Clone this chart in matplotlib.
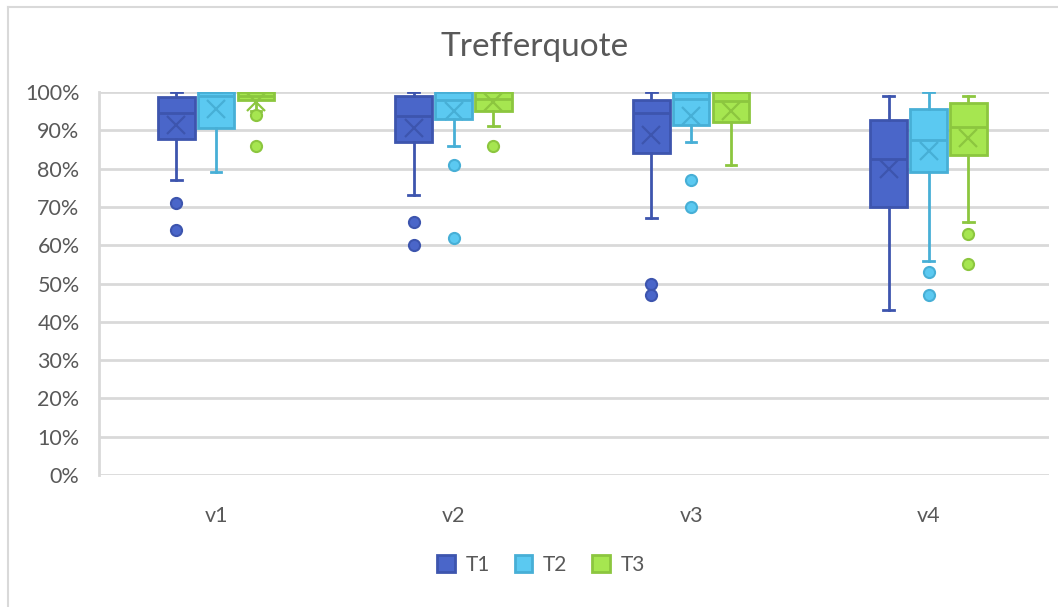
import matplotlib
matplotlib.use("Agg")
import matplotlib.pyplot as plt
from matplotlib.patches import Patch
from matplotlib.lines import Line2D
from matplotlib.ticker import FuncFormatter

categories = ["v1", "v2", "v3", "v4"]
series = ["T1", "T2", "T3"]

# values in percent, per series, per category
whislo = {
    "T1": [77, 73, 67, 43],
    "T2": [79, 86, 87, 56],
    "T3": [95, 91, 81, 66],
}
q1 = {
    "T1": [87.7, 87.0, 84.0, 70.0],
    "T2": [90.7, 92.9, 91.3, 79.1],
    "T3": [97.9, 95.1, 92.2, 83.5],
}
med = {
    "T1": [94.6, 93.7, 94.6, 82.5],
    "T2": [99.0, 98.0, 98.2, 87.5],
    "T3": [99.0, 98.1, 97.6, 90.9],
}
q3 = {
    "T1": [98.8, 99.0, 98.0, 92.7],
    "T2": [100, 100, 100, 95.6],
    "T3": [100, 100, 100, 97.0],
}
whishi = {
    "T1": [100, 100, 100, 99],
    "T2": [100, 100, 100, 100],
    "T3": [100, 100, 100, 99],
}
means = {
    "T1": [91.4, 90.7, 88.8, 79.8],
    "T2": [95.5, 95.1, 93.7, 84.6],
    "T3": [97.5, 97.3, 95.1, 87.9],
}
outliers = {
    "T1": [[71, 64], [66, 60], [50, 47], []],
    "T2": [[], [81, 62], [77, 70], [53, 47]],
    "T3": [[94, 86], [86], [], [63, 55]],
}
yticks = [0, 10, 20, 30, 40, 50, 60, 70, 80, 90, 100]

face = {"T1": "#4A66C9", "T2": "#5BC9F1", "T3": "#A6E650"}
edge = {"T1": "#3D55AE", "T2": "#47AFD6", "T3": "#8CC63F"}

fig = plt.figure(figsize=(10.58, 6.07), dpi=100)
ax = fig.add_axes([99/1058, 1-475/607, (1049-99)/1058, (475-92)/607])

offsets = [-0.168, 0.0, 0.168]
width = 0.155
for si, s in enumerate(series):
    stats = []
    for ci in range(len(categories)):
        stats.append(dict(med=med[s][ci], q1=q1[s][ci], q3=q3[s][ci],
                          whislo=whislo[s][ci], whishi=whishi[s][ci],
                          mean=means[s][ci], fliers=outliers[s][ci]))
    pos = [ci + offsets[si] for ci in range(len(categories))]
    ax.bxp(stats, positions=pos, widths=width, patch_artist=True,
           showmeans=True, capwidths=0.045, manage_ticks=False,
           boxprops=dict(facecolor=face[s], edgecolor=edge[s], linewidth=2),
           medianprops=dict(color=edge[s], linewidth=2),
           whiskerprops=dict(color=edge[s], linewidth=2),
           capprops=dict(color=edge[s], linewidth=2),
           meanprops=dict(marker="x", markersize=13, markeredgecolor=edge[s],
                          markeredgewidth=1.6, markerfacecolor="none"),
           flierprops=dict(marker="o", markersize=8, markerfacecolor=face[s],
                           markeredgecolor=edge[s], markeredgewidth=1.5))

ax.set_xlim(-0.493, 3.507)
ax.set_ylim(0, 100)
ax.set_yticks(yticks)
ax.yaxis.set_major_formatter(FuncFormatter(lambda v, p: f"{int(v)}%"))
ax.set_xticks(range(len(categories)))
ax.set_xticklabels(categories)
ax.grid(axis="y", color="#D9D9D9", linewidth=2)
ax.set_axisbelow(True)
for sp in ["top", "right", "bottom"]:
    ax.spines[sp].set_visible(False)
ax.spines["left"].set_color("#D9D9D9")
ax.spines["left"].set_linewidth(2)
ax.tick_params(axis="both", length=0, labelsize=15.5, labelcolor="#595959")
ax.tick_params(axis="y", pad=14)
ax.tick_params(axis="x", pad=22)
for lab in ax.get_xticklabels() + ax.get_yticklabels():
    lab.set_family("Lato")

fig.text(535/1058, 1-47/607, "Trefferquote", ha="center", va="center",
         fontsize=24, color="#595959", family="Lato")

handles = [Patch(facecolor=face[s], edgecolor=edge[s], linewidth=2, label=s) for s in series]
leg = fig.legend(handles=handles, loc="center", bbox_to_anchor=(541/1058, 1-565/607),
                 ncol=3, frameon=False, handlelength=0.85, handleheight=0.85,
                 handletextpad=0.5, columnspacing=1.2,
                 prop=dict(family="Lato", size=15))
for t in leg.get_texts():
    t.set_color("#595959")

fig.add_artist(Line2D([8/1058, 8/1058], [0, 1-7/607], color="#D9D9D9", linewidth=1.5))
fig.add_artist(Line2D([8/1058, 1], [1-7/607, 1-7/607], color="#D9D9D9", linewidth=1.5))

fig.savefig("out.png", dpi=100)
